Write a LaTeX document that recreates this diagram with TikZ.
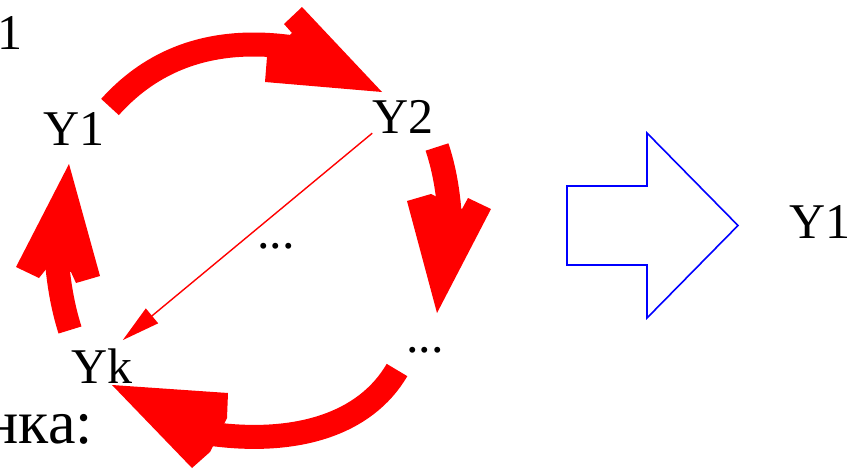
\documentclass[tikz,border=0pt]{standalone}
\usepackage{fontspec}
\setmainfont{Liberation Serif}
\usetikzlibrary{arrows.meta}
\begin{document}
\begin{tikzpicture}[x=1pt,y=-1pt,
  lbl/.style={font=\fontsize{50}{60}\selectfont, inner sep=0pt, anchor=base},
  shaft/.style={draw=red, line width=24pt},
  head/.style={fill=red},
  thinarrow/.style={draw=red, line width=1.4pt, -{Triangle[length=38pt,width=19pt]}},
  blockarrow/.style={draw=blue, line width=1.6pt, line join=miter}]
\useasboundingbox (0,0) rectangle (854,469);

% labels
\node[lbl] (Y1) at (74,145) {Y1};
\node[lbl] (Y2) at (403,133) {Y2};
\node[lbl] (Yk) at (102,383) {Yk};
\node[lbl] (d1) at (276,248) {...};
\node[lbl] (d2) at (425,352) {...};
\node[lbl] (R1) at (820,238) {Y1};
\node[lbl] (top1) at (10,49) {1};
\node[font=\fontsize{62}{70}\selectfont, inner sep=0pt, anchor=base east] (ocenka) at (93,443) {нка:};

% thin arrow Y2 -> Yk
\draw[thinarrow] (Y2.south west) -- ([shift={(-10,-8)}]Yk.north east);

% block arrow 1: Y1 -> Y2
\coordinate (a1t) at (110,107);
\coordinate (a1e) at (290,47);
\draw[shaft] (a1t) .. controls (145,68) and (200,35) .. (a1e);
\fill[head] (292,33) -- (284,24) -- (302,7) -- (382,92) -- (265,82) -- (267,57) -- cycle;

% block arrow 2: Y2 -> ...
\coordinate (a2t) at (437,147);
\coordinate (a2e) at (450,218);
\draw[shaft] (a2t) .. controls (444,168) and (448,190) .. (a2e);
\fill[head] (431,194) -- (407,201) -- (437,313) -- (491,209) -- (468,198) -- (462,209) -- cycle;

% block arrow 3: ... -> Yk
\coordinate (a3t) at (397,370);
\coordinate (a3e) at (212,434);
\draw[shaft] (a3t) .. controls (365,425) and (295,445) .. (a3e);
\fill[head] (227,418) -- (228,393) -- (112,385) -- (192,468) -- (210,452) -- cycle;

% block arrow 4: Yk -> Y1
\coordinate (a4t) at (70,330);
\coordinate (a4e) at (57,262);
\draw[shaft] (a4t) .. controls (63,308) and (59,285) .. (a4e);
\fill[head] (47,268) -- (39,278) -- (16,267) -- (69,164) -- (100,276) -- (76,283) -- (71,272) -- cycle;

% blue outline arrow
\draw[blockarrow] (567,186) -- (647,186) -- (647,133) -- (738,225.5) -- (647,318) -- (647,265) -- (567,265) -- cycle;
\end{tikzpicture}
\end{document}
